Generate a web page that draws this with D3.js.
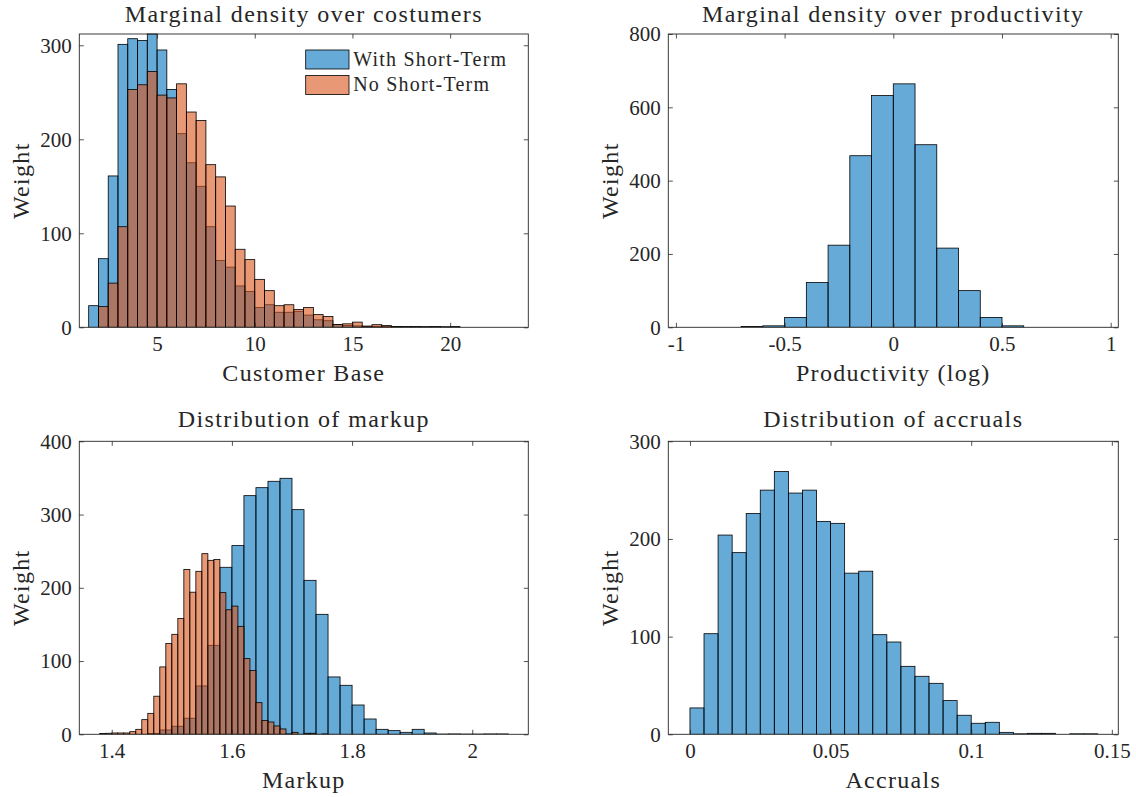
<!DOCTYPE html>
<html>
<head>
<meta charset="utf-8">
<script src="https://cdn.jsdelivr.net/npm/d3@7"></script>
<style>
  body { margin: 0; background: #fff; }
  svg text { font-family: "Liberation Serif", "Times New Roman", serif; fill: #262626; }
</style>
</head>
<body>
<svg id="fig" width="1136" height="797"></svg>
<script>
// ---- data ----
var custEdges = [1.5, 2, 2.5, 3, 3.5, 4, 4.5, 5, 5.5, 6, 6.5, 7, 7.5, 8, 8.5, 9, 9.5, 10, 10.5, 11,
  11.5, 12, 12.5, 13, 13.5, 14, 14.5, 15, 15.5, 16, 16.5, 17, 17.5, 18, 18.5, 19, 19.5, 20, 20.5];
var custWith = [23, 73, 161, 301, 307, 305, 312, 295, 253, 206, 175, 150, 107, 71, 64, 44, 38, 21, 24, 16,
  16, 17, 13, 8, 7, 3, 2, 1.5, 1, 1, 1, 0.7, 0.7, 0.7, 0.5, 0.7, 0.5, 0.7];
var custNo = [0, 22, 47, 107, 253, 258, 272, 247, 244, 259, 229, 220, 173, 160, 129, 83, 72, 51, 39, 23,
  24, 19, 21, 13.5, 11.5, 3, 3.7, 5.5, 1.3, 2.8, 1.8, 0.7, 0.5, 0.5, 0.5, 0.5, 0.3, 0.3];

var prodEdges = [-0.7, -0.6, -0.5, -0.4, -0.3, -0.2, -0.1, 0, 0.1, 0.2, 0.3, 0.4, 0.5, 0.6];
var prodWith = [2, 4, 27, 122, 224, 468, 632, 664, 498, 216, 100, 27, 4];

var markEdgesWith = [1.46, 1.48, 1.5, 1.52, 1.54, 1.56, 1.58, 1.6, 1.62, 1.64, 1.66, 1.68, 1.7, 1.72, 1.74,
  1.76, 1.78, 1.8, 1.82, 1.84, 1.86, 1.88, 1.9, 1.92, 1.94, 1.96, 1.98, 2, 2.02, 2.04, 2.06];
var markWith = [1, 5.9, 11, 22, 66, 121.5, 228, 257.6, 325.8, 336.7, 345.4, 349.5, 306.7, 210.2, 163.8,
  78.3, 66.9, 40, 20.9, 6.8, 5, 2.7, 6.8, 1.8, 0.3, 0.5, 0.3, 0.3, 0.5, 0.5];
var markEdgesNo = [1.38, 1.39, 1.4, 1.41, 1.42, 1.43, 1.44, 1.45, 1.46, 1.47, 1.48, 1.49, 1.5, 1.51, 1.52,
  1.53, 1.54, 1.55, 1.56, 1.57, 1.58, 1.59, 1.6, 1.61, 1.62, 1.63, 1.64, 1.65, 1.66, 1.67, 1.68, 1.69,
  1.7, 1.71, 1.72, 1.73, 1.74, 1.75, 1.76];
var markNo = [1, 1.4, 1.8, 1.8, 1.8, 3.6, 6.8, 20, 28.6, 52, 92, 124, 136.5, 158, 225,
  194, 222.5, 246.6, 237.5, 238.5, 193.4, 170, 175, 147.4, 103.3, 87, 43.2, 19, 16.8, 11.4, 7.3, 0.5,
  2.7, 0, 1.4, 1.4, 0, 0.5];

var accEdges = [0, 0.005, 0.01, 0.015, 0.02, 0.025, 0.03, 0.035, 0.04, 0.045, 0.05, 0.055, 0.06, 0.065,
  0.07, 0.075, 0.08, 0.085, 0.09, 0.095, 0.1, 0.105, 0.11, 0.115, 0.12, 0.125, 0.13, 0.135, 0.14, 0.145];
var accWith = [27, 103, 204, 186, 226, 250, 269, 247, 250, 218, 216, 165, 167, 102,
  94.5, 69.6, 59.4, 52.2, 34.5, 19.5, 11.3, 12.3, 2, 0.5, 1, 1, 0, 0.5, 0.5];

var seriesNames = ['With Short-Term', 'No Short-Term'];

// ---- styling ----
var blue = '#0072BD', orange = '#D95319', axisCol = '#262626';
var svg = d3.select('#fig');

function drawPanel(p) {
  var x = d3.scaleLinear().domain(p.xdom).range([p.left, p.right]);
  var y = d3.scaleLinear().domain(p.ydom).range([p.bottom, p.top]);
  var g = svg.append('g');
  var tick = 4.5;

  var clipId = 'clip' + Math.round(p.left) + '_' + Math.round(p.top);
  g.append('clipPath').attr('id', clipId).append('rect')
    .attr('x', p.left).attr('y', p.top - 1)
    .attr('width', p.right - p.left).attr('height', p.bottom - p.top + 1);

  var bars = g.append('g').attr('clip-path', 'url(#' + clipId + ')');
  p.series.forEach(function(s) {
    var bins = s.counts.map(function(c, i) { return {a: s.edges[i], b: s.edges[i + 1], c: c}; });
    bars.append('g').selectAll('rect').data(bins).enter().append('rect')
      .attr('x', function(d) { return x(d.a); })
      .attr('width', function(d) { return x(d.b) - x(d.a); })
      .attr('y', function(d) { return y(d.c); })
      .attr('height', function(d) { return y(0) - y(d.c); })
      .attr('fill', s.color).attr('fill-opacity', 0.6)
      .attr('stroke', '#000').attr('stroke-width', 0.8);
  });

  // axes, ticks inward on all four sides
  var fmt = function(d) { return String(d); };
  var ax = [
    [d3.axisBottom(x).tickValues(p.xticks).tickFormat(fmt).tickPadding(9), 0, p.bottom],
    [d3.axisTop(x).tickValues(p.xticks).tickFormat(''), 0, p.top],
    [d3.axisLeft(y).tickValues(p.yticks).tickFormat(fmt).tickPadding(7.5), p.left, 0],
    [d3.axisRight(y).tickValues(p.yticks).tickFormat(''), p.right, 0]
  ];
  ax.forEach(function(a) {
    var ag = g.append('g').attr('transform', 'translate(' + a[1] + ',' + a[2] + ')')
      .call(a[0].tickSizeInner(-tick).tickSizeOuter(0));
    ag.select('.domain').remove();
    ag.selectAll('line').attr('stroke', axisCol).attr('stroke-width', 0.8);
    ag.selectAll('text').attr('font-size', 21).attr('fill', axisCol)
      .style('font-family', '"Liberation Serif", serif');
  });

  g.append('rect').attr('x', p.left).attr('y', p.top)
    .attr('width', p.right - p.left).attr('height', p.bottom - p.top)
    .attr('fill', 'none').attr('stroke', axisCol).attr('stroke-width', 0.9);

  var cx = (p.left + p.right) / 2;
  g.append('text').attr('x', cx).attr('y', p.top - p.titleGap)
    .attr('text-anchor', 'middle').attr('font-size', 24).attr('letter-spacing', 1.4)
    .text(p.title);
  g.append('text').attr('x', cx).attr('y', p.bottom + 53.5)
    .attr('text-anchor', 'middle').attr('font-size', 24).attr('letter-spacing', 1.3)
    .text(p.xlabel);
  g.append('text')
    .attr('transform', 'translate(' + (p.left - 50.5) + ',' + ((p.top + p.bottom) / 2) + ') rotate(-90)')
    .attr('text-anchor', 'middle').attr('font-size', 24).attr('letter-spacing', 1.3)
    .text('Weight');

  return {x: x, y: y, g: g};
}

var L = [79.3, 528.3], R = [668.3, 1118.3], T = [34, 327.3], B = [441.3, 734.3];

var p1 = drawPanel({
  left: L[0], right: L[1], top: T[0], bottom: T[1], titleGap: 12,
  xdom: [1.02, 24], ydom: [0, d3.max(custWith)],
  xticks: [5, 10, 15, 20], yticks: [0, 100, 200, 300],
  title: 'Marginal density over costumers', xlabel: 'Customer Base',
  series: [{edges: custEdges, counts: custWith, color: blue},
           {edges: custEdges, counts: custNo, color: orange}]
});

drawPanel({
  left: R[0], right: R[1], top: T[0], bottom: T[1], titleGap: 12,
  xdom: [-1.035, 1.035], ydom: [0, 800],
  xticks: [-1, -0.5, 0, 0.5, 1], yticks: [0, 200, 400, 600, 800],
  title: 'Marginal density over productivity', xlabel: 'Productivity (log)',
  series: [{edges: prodEdges, counts: prodWith, color: blue}]
});

drawPanel({
  left: L[0], right: L[1], top: B[0], bottom: B[1], titleGap: 14,
  xdom: [1.346, 2.0933], ydom: [0, 400],
  xticks: [1.4, 1.6, 1.8, 2], yticks: [0, 100, 200, 300, 400],
  title: 'Distribution of markup', xlabel: 'Markup',
  series: [{edges: markEdgesWith, counts: markWith, color: blue},
           {edges: markEdgesNo, counts: markNo, color: orange}]
});

drawPanel({
  left: R[0], right: R[1], top: B[0], bottom: B[1], titleGap: 14,
  xdom: [-0.0077, 0.1523], ydom: [0, 300],
  xticks: [0, 0.05, 0.1, 0.15], yticks: [0, 100, 200, 300],
  title: 'Distribution of accruals', xlabel: 'Accruals',
  series: [{edges: accEdges, counts: accWith, color: blue}]
});

// legend (top-left panel, no box)
var leg = p1.g.append('g').attr('transform', 'translate(305.7,50)');
[blue, orange].forEach(function(c, i) {
  leg.append('rect').attr('x', 0).attr('y', i * 25.5).attr('width', 43.3).attr('height', 19)
    .attr('fill', c).attr('fill-opacity', 0.6).attr('stroke', '#000').attr('stroke-width', 0.8);
  leg.append('text').attr('x', 47.5).attr('y', i * 25.5 + 15.5)
    .attr('font-size', 20).attr('letter-spacing', 1.2).text(seriesNames[i]);
});
</script>
</body>
</html>
